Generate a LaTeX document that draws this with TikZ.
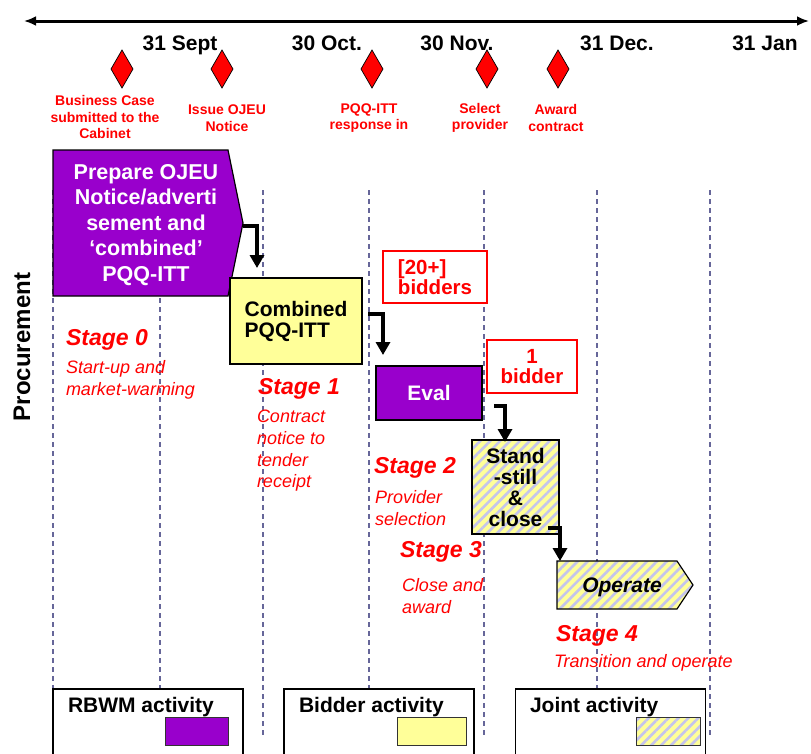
\documentclass[tikz,border=0pt]{standalone}
\usepackage{fontspec}
\setmainfont{Liberation Sans}
\usetikzlibrary{arrows.meta,patterns.meta,shapes.geometric}

\definecolor{purp}{HTML}{9900CC}
\definecolor{paleyel}{HTML}{FFFF99}
\definecolor{stripe}{HTML}{C4C4EC}
\definecolor{gridc}{HTML}{666699}
\definecolor{alert}{HTML}{FF0000}

\newcommand{\fsz}[2]{\fontsize{#1}{#2}\selectfont}

\begin{document}
\begin{tikzpicture}[x=1pt,y=-1pt,
  every node/.style={inner sep=0pt, outer sep=0pt},
  gridline/.style={draw=gridc, line width=2.1pt, dash pattern=on 5pt off 4pt},
  axis/.style={draw=black, line width=3pt,
    {Latex[length=12pt,width=10pt]}-{Latex[length=12pt,width=10pt]}},
  datelbl/.style={anchor=base, font=\bfseries\fsz{21}{24}},
  milestone/.style={shape=diamond, fill=alert, draw=black, line width=0.7pt,
    minimum width=22pt, minimum height=38pt},
  mslabel/.style={font=\bfseries\fsz{14}{16.5}, text=alert, align=center},
  purplebox/.style={draw=black, line width=1.2pt, fill=purp, text=white,
    font=\bfseries\fsz{21}{21}, align=center},
  yellowbox/.style={draw=black, line width=1.2pt, fill=paleyel,
    font=\bfseries\fsz{21}{21}, align=left},
  jointbox/.style={draw=black, line width=1.2pt, preaction={fill=paleyel},
    pattern={Lines[angle=45,distance=7pt,line width=2.6pt]}, pattern color=stripe},
  countbox/.style={draw=alert, line width=1.4pt, fill=white, text=alert,
    font=\bfseries\fsz{20.5}{20}},
  elbow/.style={draw=black, line width=3.5pt, line join=miter,
    -{Triangle[length=13pt,width=14pt]}},
  stagehead/.style={anchor=west, text=alert, font=\bfseries\itshape\fsz{23}{24}},
  stagetext/.style={anchor=west, text=alert, font=\itshape\fsz{18}{21.7}, align=left},
  legendbox/.style={draw=black, line width=1.2pt, fill=white,
    minimum width=190pt, minimum height=91pt},
  legendtext/.style={anchor=west, font=\bfseries\fsz{21}{24}},
  swatch/.style={draw=black!80, line width=1pt, minimum height=28pt}
]
\useasboundingbox (0,0) rectangle (811,753);
\clip (0,0) rectangle (811,753);

% month grid
\foreach \x/\yb in {53/689,160/689,263/737,369/689,484/737,597/689,710/737}
  \draw[gridline] (\x,190) -- (\x,\yb);

% time axis
\coordinate (axisL) at (24,21);
\coordinate (axisR) at (809,21);
\draw[axis] (axisL) -- (axisR);

\node[datelbl] (dSep) at (180,50) {31 Sept};
\node[datelbl] (dOct) at (327,50) {30 Oct.};
\node[datelbl] (dNov) at (457,50) {30 Nov.};
\node[datelbl] (dDec) at (617,50) {31 Dec.};
\node[datelbl] (dJan) at (765,50) {31 Jan};

% milestones
\node[milestone] (m1) at (122,69) {};
\node[milestone] (m2) at (222,69) {};
\node[milestone] (m3) at (372,69) {};
\node[milestone] (m4) at (487,69) {};
\node[milestone] (m5) at (558,69) {};

\node[mslabel] (l1) at (105,117) {Business Case\\submitted to the\\Cabinet};
\node[mslabel] (l2) at (227,118) {Issue OJEU\\Notice};
\node[mslabel] (l3) at (369,118) {PQQ-ITT\\response in};
\node[mslabel] (l4) at (480,118) {Select\\provider};
\node[mslabel] (l5) at (556,118) {Award\\contract};

% side heading
\node[rotate=90, font=\bfseries\fsz{24}{28}] (proc) at (22,347) {Procurement};

% stage 0 activity (pointed box)
\draw[line width=1.2pt, fill=purp] (53,150) -- (228,150) -- (243,223) -- (228,296) -- (53,296) -- cycle;
\coordinate (prepTip) at (243,226);
\node[text=white, font=\bfseries\fsz{21.5}{25.4}, align=center] (prep) at (146,225)
  {Prepare OJEU\\Notice/adverti\\sement and\\‘combined’\\PQQ-ITT};

% activity boxes
\node[yellowbox, minimum width=132pt, minimum height=86pt] (comb) at (296,321) {Combined\\PQQ-ITT};
\node[purplebox, minimum width=106pt, minimum height=54pt] (eval) at (429,393) {Eval};
\node[jointbox, minimum width=87pt, minimum height=94pt, align=center,
  font=\bfseries\fsz{21}{21}] (stand) at (515.5,487) {Stand\\-still\\\&\\close};

% operate (pointed box)
\draw[line width=1.2pt, preaction={fill=paleyel},
  pattern={Lines[angle=45,distance=7pt,line width=2.6pt]}, pattern color=stripe]
  (557,561) -- (677,561) -- (693,585) -- (677,609) -- (557,609) -- cycle;
\node[font=\bfseries\itshape\fsz{21}{24}] (oper) at (622,587) {Operate};
\coordinate (operIn) at (560,561);

% bidder counts
\node[countbox, minimum width=104pt, minimum height=52pt, align=left] (many) at (435,277) {[20+]\\bidders};
\node[countbox, minimum width=90pt, minimum height=53pt, align=center] (one) at (532,366.5) {1\\bidder};

% hand-offs
\draw[elbow] (prepTip) -| ([xshift=27pt,yshift=10pt]comb.north west);
\draw[elbow] ([xshift=6pt,yshift=7pt]comb.east) -| ([xshift=7pt,yshift=11pt]eval.north west);
\draw[elbow] ([xshift=12pt,yshift=-13pt]eval.east) -| ([xshift=33pt,yshift=-2pt]stand.north west);
\draw[elbow] ([xshift=-11pt,yshift=6pt]stand.south east) -| (operIn);

% stages
\node[stagehead] (s0) at (66,340) {Stage 0};
\node[stagetext] (t0) at (66,380) {Start-up and\\market-warming};
\node[stagehead] (s1) at (258,389) {Stage 1};
\node[stagetext] (t1) at (257,451) {Contract\\notice to\\tender\\receipt};
\node[stagehead] (s2) at (374,468) {Stage 2};
\node[stagetext] (t2) at (375,508) {Provider\\selection};
\node[stagehead] (s3) at (400,552) {Stage 3};
\node[stagetext] (t3) at (402,596) {Close and\\award};
\node[stagehead] (s4) at (556,636) {Stage 4};
\node[stagetext] (t4) at (554,663) {Transition and operate};

% legend
\node[legendbox] (key1) at (148,734.5) {};
\node[legendtext] (key1t) at (68,707) {RBWM activity};
\node[swatch, fill=purp, minimum width=63pt] (key1s) at (196.5,731) {};

\node[legendbox] (key2) at (379,734.5) {};
\node[legendtext] (key2t) at (299,707) {Bidder activity};
\node[swatch, fill=paleyel, minimum width=69pt] (key2s) at (431.5,731) {};

\node[legendbox] (key3) at (610.5,734.5) {};
\node[legendtext] (key3t) at (530,707) {Joint activity};
\node[swatch, preaction={fill=paleyel}, pattern={Lines[angle=45,distance=7pt,line width=2.6pt]},
  pattern color=stripe, minimum width=64pt] (key3s) at (668,731) {};
\end{tikzpicture}
\end{document}
